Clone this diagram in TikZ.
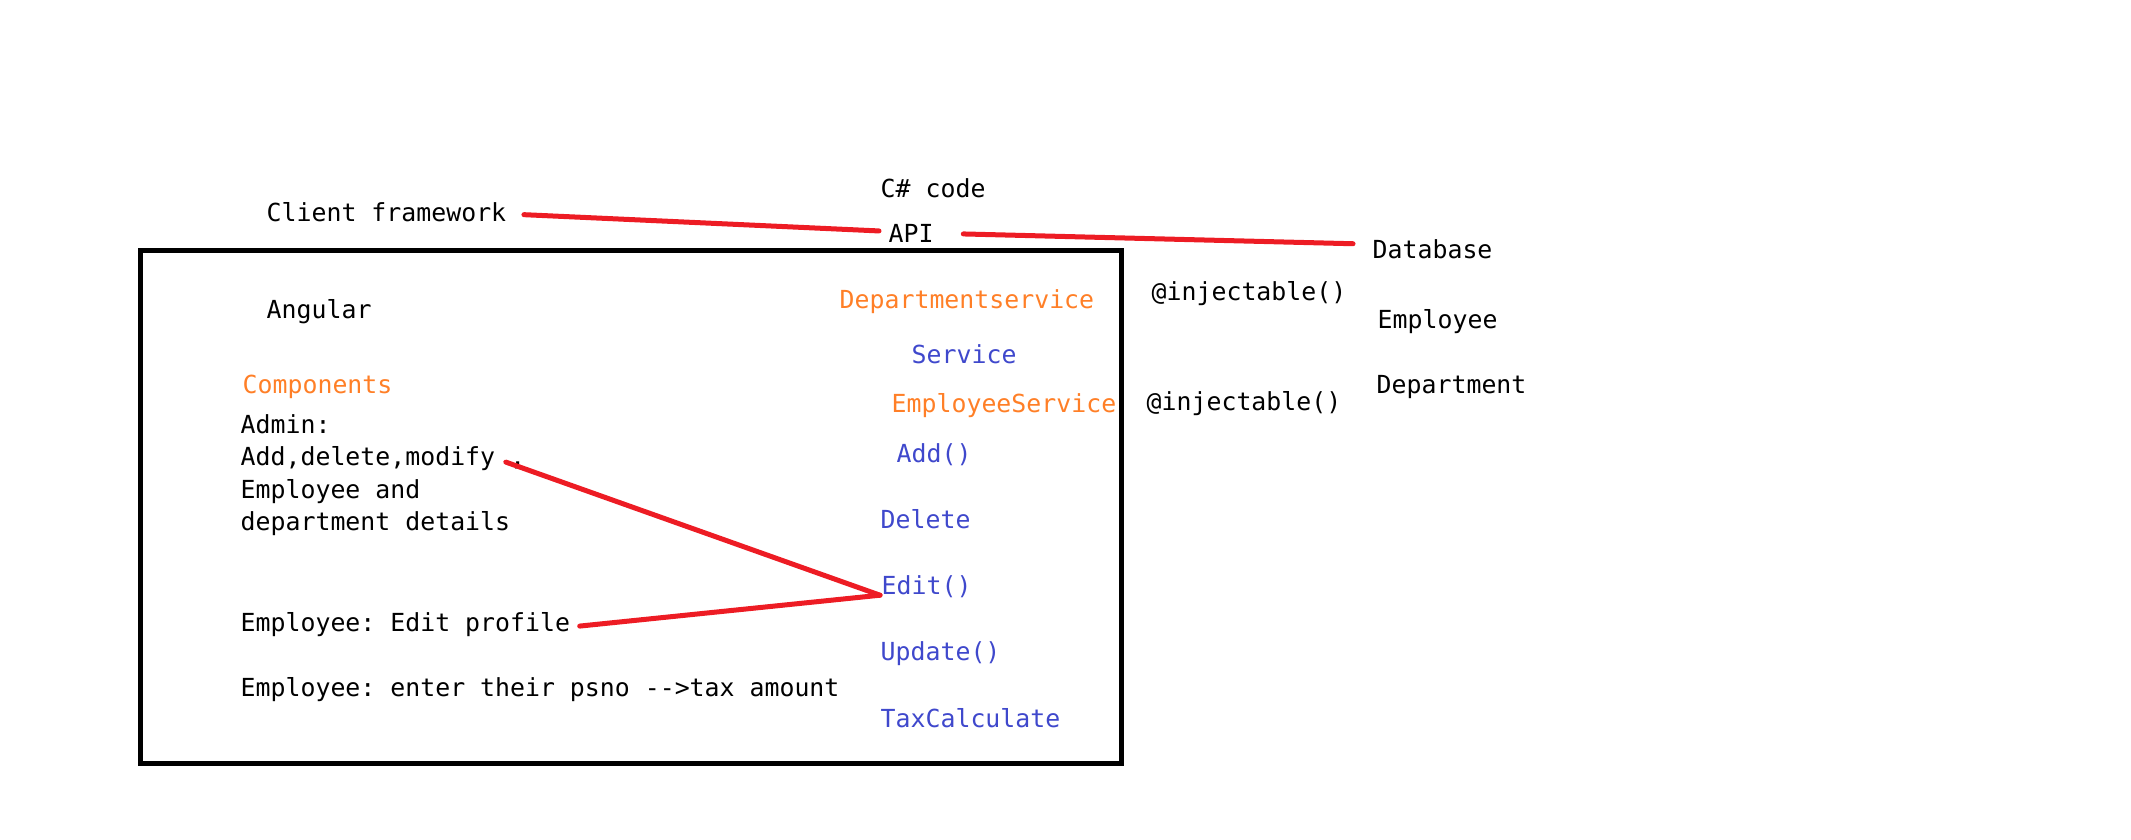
\documentclass[tikz,border=0pt]{standalone}
\usepackage{fontspec}
\newfontfamily\codefont{DejaVu Sans Mono}
\usepackage{tikz}
\usetikzlibrary{positioning}
\definecolor{paintred}{HTML}{ED1C24}
\definecolor{paintorange}{HTML}{FF7F27}
\definecolor{paintblue}{HTML}{3F48CC}
\frenchspacing

\begin{document}
\begin{tikzpicture}[
    x=0.01cm, y=-0.01cm,
    every node/.style={font=\codefont\fontsize{7.07pt}{9.24pt}\selectfont, anchor=base west, inner sep=0pt},
    svc/.style={text=paintorange},
    method/.style={text=paintblue},
    link/.style={draw=paintred, line width=0.05cm, line cap=round},
    frame/.style={draw=black, line width=0.05cm}
]
\useasboundingbox (0,0) rectangle (2131,839);
% top row: client, api, database
\node (csharp) at (880,197) {C\# code};
\node (client) at (266,221) {Client framework};
\node (api) at (888,242) {API};
\node (database) at (1372,258) {Database};
% angular side
\draw[frame] (140,250) rectangle (1121,763);
\node (angular) at (266,318) {Angular};
\node[svc] (components) at (242,393) {Components};
\node (admin) at (240,433) {Admin:};
\node (adminops) at (240,465) {Add,delete,modify ,};
\node (adminemp) at (240,498) {Employee and};
\node (admindept) at (240,530) {department details};
\node (empedit) at (240,631) {Employee: Edit profile};
\node (emptax) at (240,696) {Employee: enter their psno -{}->tax amount};
% services and methods
\node[svc] (deptsvc) at (839,308) {Departmentservice};
\node[method] (service) at (911,363) {Service};
\node[svc] (empsvc) at (891,412) {EmployeeService};
\node[method] (add) at (896,462) {Add()};
\node[method] (delete) at (880,528) {Delete};
\node[method] (edit) at (881,594) {Edit()};
\node[method] (update) at (880,660) {Update()};
\node[method] (taxcalc) at (880,727) {TaxCalculate};
% outside the box
\node (inject1) at (1151,300) {@injectable()};
\node (inject2) at (1146,410) {@injectable()};
\node (employee) at (1377,328) {Employee};
\node (department) at (1376,393) {Department};
% red links
\draw[link] ([shift={(17,3)}]client.east) -- ([shift={(-9,-2)}]api.west);
\draw[link] ([shift={(29,1)}]api.east) -- ([shift={(-19,-5)}]database.west);
\draw[link] ([shift={(-20,4)}]adminops.east) -- ([shift={(-1,9)}]edit.west);
\draw[link] ([shift={(9,2)}]empedit.east) -- ([shift={(-1,9)}]edit.west);
\end{tikzpicture}
\end{document}
